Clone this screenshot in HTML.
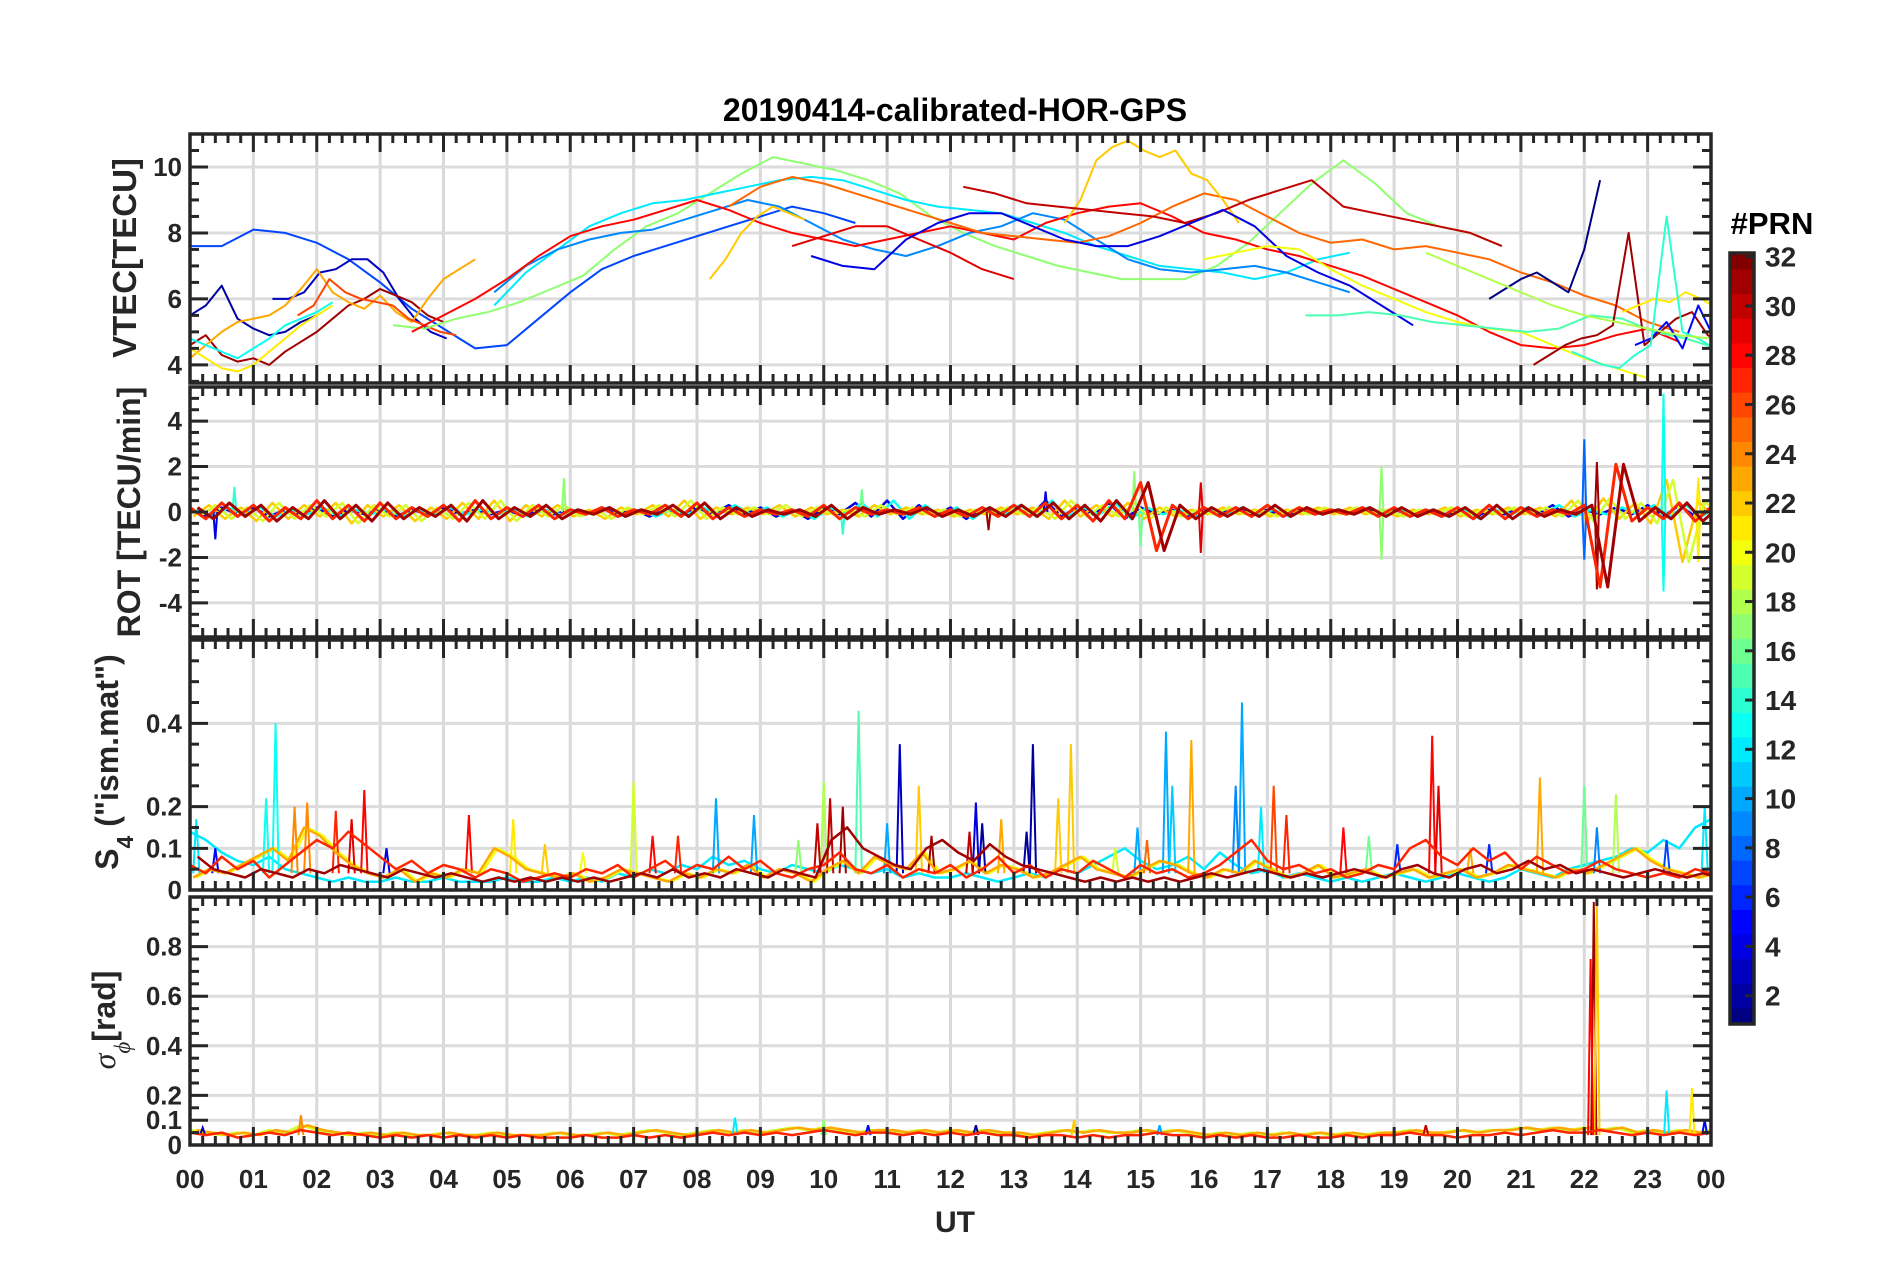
<!DOCTYPE html>
<html><head><meta charset="utf-8"><style>
html,body{margin:0;padding:0;background:#fff;}
svg{display:block;font-family:"Liberation Sans",Arial,sans-serif;}
</style></head><body>
<svg id="fig" width="1902" height="1272" viewBox="0 0 1902 1272" xmlns="http://www.w3.org/2000/svg">
<rect x="0" y="0" width="1902" height="1272" fill="#fff"/>
<text x="955" y="121" text-anchor="middle" font-size="32" font-weight="bold" fill="#000">20190414-calibrated-HOR-GPS</text>
<g id="layer"></g>
<text x="955" y="1232" text-anchor="middle" font-size="30" font-weight="bold" fill="#262626">UT</text>
<text transform="translate(136,258) rotate(-90)" text-anchor="middle" font-size="33" font-weight="bold" fill="#262626">VTEC[TECU]</text>
<text transform="translate(140,512) rotate(-90)" text-anchor="middle" font-size="32" font-weight="bold" fill="#262626">ROT [TECU/min]</text>
<text transform="translate(118,762) rotate(-90)" text-anchor="middle" font-size="32" font-weight="bold" fill="#262626">S<tspan font-size="23" dy="15">4</tspan><tspan dy="-15"> ("ism.mat")</tspan></text>
<text transform="translate(115,1020) rotate(-90)" text-anchor="middle" font-size="32" font-weight="bold" fill="#262626"><tspan font-style="italic" font-weight="normal" font-family="Liberation Serif, serif">σ</tspan><tspan font-size="23" dy="15" font-style="italic" font-weight="normal" font-family="Liberation Serif, serif">ϕ</tspan><tspan dy="-15">[rad]</tspan></text>
<text x="1772" y="234" text-anchor="middle" font-size="31" font-weight="bold" fill="#000">#PRN</text>
</svg>
<script>
// ---------- data ----------
const hourLabels=["00","01","02","03","04","05","06","07","08","09","10","11","12","13","14","15","16","17","18","19","20","21","22","23","00"];
const vtecTicks=[4,6,8,10];
const rotTicks=[-4,-2,0,2,4];
const s4Ticks=[0,0.1,0.2,0.4];
const sigTicks=[0,0.1,0.2,0.4,0.6,0.8];
const cbTicks=[2,4,6,8,10,12,14,16,18,20,22,24,26,28,30,32];
// VTEC tracks: prn, start hour, step hours, values
const vtecPrn=[7,2,3,31,23,21,13,26,17,12,9,28,25,22,22,30,29,4,1,20,15,31,21,5,14,18];
const vtecT0=[0,0,1.3,0,0,0,0,1.7,3.2,4.8,4.8,3.5,8.5,8.2,13.8,12.2,9.5,9.8,20.5,16,17.6,21.2,22.6,22.8,21.8,19.5];
const vtecDt=[0.5,0.25,0.25,0.25,0.25,0.25,0.25,0.25,0.5,0.5,0.5,0.5,0.5,0.25,0.25,0.5,0.5,0.5,0.25,0.5,0.5,0.25,0.25,0.25,0.25,0.5];
const vtecVals=[
[7.6,7.6,8.1,8.0,7.7,7.2,6.5,5.7,5.1,4.5,4.6,5.4,6.2,6.9,7.3,7.6,7.9,8.2,8.5,8.8,8.6,8.3],
[5.5,5.8,6.4,5.4,5.1,4.9,5.0,5.3,5.5],
[6.0,6.0,6.2,6.8,6.9,7.2,7.2,6.8,6.0,5.4,5.0,4.8],
[4.6,4.9,4.3,4.1,4.2,4.0,4.4,4.7,5.0,5.4,5.8,6.0,6.3,6.1,5.9,5.5,5.3],
[4.2,4.6,5.0,5.3,5.4,5.5,5.8,6.3,6.9,6.2,5.9,5.7,6.1,5.6,5.3,6.0,6.6,6.9,7.2],
[4.5,4.2,3.9,3.8,4.0,4.4,4.8,5.2,5.5,5.8],
[4.8,4.6,4.4,4.2,4.5,4.8,5.2,5.4,5.6,5.9],
[5.5,5.8,6.6,6.2,6.0,5.9,5.8,5.4,5.2,5.0,4.9],
[5.2,5.1,5.4,5.6,5.9,6.3,6.7,7.5,8.2,8.6,9.2,9.8,10.3,10.1,9.9,9.6,9.2,8.5,8.0,7.6,7.3,7.0,6.8,6.6,6.6,6.6,7.0,7.7,8.6,9.5,10.2,9.5,8.6,8.2,8.0,7.6],
[5.8,6.8,7.5,8.2,8.6,8.9,9.0,9.2,9.4,9.6,9.7,9.6,9.3,9.0,8.8,8.7,8.6,8.3,8.0,7.6,7.3,7.0,6.9,6.8,6.6,6.8,7.2,7.4],
[6.2,7.0,7.5,7.8,8.0,8.1,8.4,8.7,9.0,8.8,8.3,7.8,7.5,7.3,7.6,8.0,8.2,8.6,8.4,7.8,7.2,6.9,6.8,6.9,7.0,6.8,6.5,6.2],
[5.0,5.5,6.0,6.6,7.3,7.9,8.2,8.4,8.7,9.0,8.7,8.3,8.0,7.8,7.6,7.8,8.0,8.2,8.0,7.8,8.3,8.6,8.8,8.9,8.5,8.0,7.8,7.5,7.3,7.0,6.7,6.3,5.9,5.5,5.0,4.6,4.5,4.6,4.9,5.1,4.7],
[8.8,9.4,9.7,9.5,9.2,8.9,8.6,8.3,8.0,7.9,7.8,7.7,7.9,8.3,8.8,9.2,9.0,8.5,8.0,7.7,7.8,7.5,7.6,7.4,7.2,6.8,6.5,6.1,5.8,5.3,5.0],
[6.6,7.2,8.0,8.5,8.8,8.6,8.4],
[8.3,9.0,10.2,10.6,10.8,10.5,10.3,10.5,9.8,9.6,9.0,8.3],
[9.4,9.2,8.9,8.8,8.7,8.6,8.5,8.3,8.6,9.0,9.3,9.6,8.8,8.6,8.4,8.2,8.0,7.6],
[7.6,7.9,8.2,8.2,7.8,7.4,6.9,6.6],
[7.3,7.0,6.9,7.8,8.3,8.6,8.6,8.2,7.8,7.6,7.6,7.9,8.3,8.7,8.2,7.3,6.8,6.4,5.8,5.2],
[6.0,6.3,6.6,6.8,6.5,6.2,7.5,9.6],
[7.2,7.4,7.6,7.5,6.9,6.4,6.0,5.6,5.3,5.1,5.0,4.6,4.2,3.9,3.6],
[5.5,5.5,5.6,5.5,5.3,5.2,5.1,5.0,5.1,5.5,5.4,5.0,4.8,4.5,4.3,4.5,5.0],
[4.0,4.3,4.6,4.8,4.9,5.2,8.0,4.6,5.0,5.4,5.6,4.9,4.6,4.8,5.0,4.9,4.8,4.6,4.5,4.7,4.9,4.5,4.3],
[5.6,5.8,6.0,5.9,6.2,6.0,5.7,6.4,5.8,6.9,5.5,5.8],
[4.6,4.8,5.3,4.5,5.8,4.8,5.6,5.0,4.8,5.7,5.0],
[4.4,4.2,4.0,3.9,4.3,4.6,8.5,5.0,4.8,4.5,4.3,4.1,4.3,4.5,4.3,4.2,4.1,4.3,4.1],
[7.4,7.0,6.6,6.2,5.8,5.5,5.3,5.1,4.9,4.8]
];
// ROT series (step 0.25 h from 0 h)
const rotRed=[0.2,-0.3,0.4,-0.2,0.3,-0.4,0.2,-0.3,0.5,-0.3,0.3,-0.4,0.4,-0.3,0.2,-0.2,0.3,-0.4,0.5,-0.3,0.2,-0.2,0.3,-0.3,0.1,-0.1,0.2,-0.2,0.1,-0.1,0.3,-0.2,0.4,-0.3,0.2,-0.2,0.1,-0.1,0.1,-0.2,0.3,-0.3,0.2,-0.1,0.1,-0.1,0.2,-0.2,0.1,-0.2,0.2,-0.2,0.3,-0.2,0.4,-0.3,0.3,-0.4,0.5,-0.3,1.3,-1.7,0.3,-0.3,0.2,-0.2,0.2,-0.2,0.3,-0.2,0.2,-0.1,0.1,-0.1,0.2,-0.2,0.2,-0.2,0.1,-0.2,0.2,-0.3,0.3,-0.3,0.2,-0.2,0.1,-0.1,0.3,-3.3,2.1,-0.4,0.2,-0.3,0.4,-0.4,0.2];
const rotOrange=[-0.2,0.3,-0.3,0.2,-0.4,0.4,-0.3,0.3,-0.2,0.4,-0.5,0.3,-0.2,0.3,-0.4,0.2,-0.3,0.4,-0.3,0.5,-0.4,0.3,-0.2,0.3,-0.2,0.1,-0.3,0.2,-0.1,0.3,-0.2,0.5,-0.3,0.2,-0.1,0.2,-0.1,0.3,-0.2,0.2,-0.1,0.1,-0.2,0.3,-0.1,0.2,-0.1,0.1,-0.2,0.1,-0.1,0.2,-0.1,0.2,-0.3,0.5,-0.2,0.3,-0.2,0.4,-0.3,0.2,-0.2,0.1,-0.1,0.2,-0.1,0.1,-0.2,0.1,-0.1,0.2,-0.1,0.2,-0.1,0.1,-0.2,0.1,-0.1,0.2,-0.2,0.1,-0.1,0.2,-0.1,0.2,-0.2,0.5,-0.4,0.6,-0.3,0.4,-0.5,1.4,-2.2,0.5,-0.3];
const rotBlue=[0.1,-0.2,0.2,-0.1,0.2,-0.2,0.1,-0.1,0.2,-0.2,0.1,-0.1,0.1,-0.2,0.1,-0.1,0.2,-0.1,0.1,-0.1,0.1,-0.2,0.1,-0.1,0.1,-0.1,0.2,-0.1,0.1,-0.2,0.1,-0.1,0.2,-0.1,0.3,-0.1,0.2,-0.2,0.1,-0.3,0.2,-0.1,0.4,-0.2,0.5,-0.3,0.3,-0.2,0.2,-0.3,0.2,-0.1,0.3,-0.2,0.5,-0.2,0.2,-0.1,0.4,-0.3,0.2,-0.1,0.1,-0.2,0.1,-0.1,0.2,-0.1,0.1,-0.2,0.1,-0.1,0.1,-0.1,0.2,-0.1,0.1,-0.1,0.1,-0.2,0.1,-0.3,0.1,-0.1,0.2,-0.1,0.3,-0.2,0.1,-0.1,0.2,-0.1,0.3,-0.2,0.3,-0.2,0.2];
const rotSpikeT=[0.4,0.7,5.9,10.3,10.6,13.5,12.6,14.9,15.0,15.95,15.95,18.8,18.8,22.0,22.0,22.2,22.2,23.25,23.25,23.8,23.8];
const rotSpikeV=[-1.2,1.1,1.5,-1.0,1.0,0.9,-0.8,1.8,-1.5,-1.8,1.3,2.0,-2.1,3.2,-2.1,2.2,-3.4,5.2,-3.5,-2.2,1.5];
const rotSpikeP=[4,14,17,14,16,4,31,17,16,29,29,17,17,8,8,31,31,13,13,21,21];
// S4 series (step 0.25 h)
const s4Red=[0.06,0.04,0.08,0.05,0.07,0.03,0.06,0.09,0.12,0.1,0.14,0.11,0.08,0.05,0.07,0.04,0.06,0.05,0.03,0.05,0.04,0.02,0.03,0.04,0.03,0.05,0.04,0.06,0.03,0.05,0.07,0.04,0.06,0.05,0.08,0.05,0.07,0.04,0.03,0.05,0.06,0.09,0.05,0.04,0.06,0.03,0.05,0.04,0.06,0.03,0.05,0.08,0.04,0.06,0.03,0.05,0.04,0.07,0.05,0.03,0.06,0.04,0.05,0.03,0.04,0.06,0.09,0.12,0.07,0.05,0.06,0.04,0.05,0.03,0.04,0.06,0.05,0.1,0.12,0.08,0.06,0.1,0.07,0.09,0.05,0.08,0.06,0.04,0.05,0.07,0.05,0.04,0.03,0.04,0.03,0.05,0.04];
const s4Orange=[0.03,0.05,0.04,0.06,0.08,0.1,0.07,0.15,0.13,0.09,0.06,0.04,0.03,0.05,0.02,0.04,0.03,0.05,0.04,0.1,0.08,0.05,0.04,0.03,0.04,0.02,0.03,0.05,0.04,0.03,0.02,0.04,0.03,0.05,0.04,0.06,0.03,0.05,0.04,0.02,0.05,0.07,0.04,0.08,0.06,0.05,0.09,0.04,0.05,0.07,0.04,0.06,0.05,0.03,0.04,0.06,0.08,0.05,0.04,0.03,0.05,0.07,0.06,0.04,0.03,0.05,0.04,0.07,0.05,0.03,0.04,0.06,0.03,0.04,0.05,0.03,0.04,0.05,0.03,0.04,0.05,0.03,0.04,0.06,0.05,0.04,0.03,0.05,0.04,0.06,0.08,0.1,0.07,0.05,0.04,0.03,0.04];
const s4Cyan=[0.14,0.12,0.09,0.07,0.06,0.08,0.05,0.04,0.03,0.02,0.03,0.02,0.02,0.03,0.02,0.02,0.03,0.02,0.02,0.02,0.03,0.02,0.02,0.03,0.02,0.03,0.02,0.04,0.03,0.05,0.04,0.06,0.05,0.08,0.06,0.07,0.05,0.04,0.06,0.05,0.04,0.06,0.05,0.04,0.05,0.03,0.04,0.03,0.03,0.04,0.03,0.02,0.03,0.04,0.03,0.05,0.04,0.06,0.08,0.1,0.07,0.05,0.06,0.08,0.05,0.09,0.06,0.04,0.05,0.03,0.04,0.03,0.02,0.03,0.02,0.03,0.04,0.03,0.02,0.03,0.04,0.03,0.02,0.03,0.05,0.04,0.03,0.05,0.06,0.07,0.08,0.1,0.09,0.12,0.1,0.15,0.17];
const s4Dark=[0.08,0.05,0.04,0.03,0.05,0.04,0.03,0.05,0.04,0.06,0.05,0.04,0.03,0.05,0.04,0.03,0.04,0.03,0.02,0.03,0.02,0.03,0.02,0.03,0.02,0.03,0.02,0.03,0.04,0.03,0.05,0.03,0.04,0.03,0.05,0.04,0.03,0.05,0.04,0.03,0.12,0.15,0.1,0.08,0.06,0.05,0.1,0.12,0.09,0.07,0.11,0.08,0.06,0.05,0.04,0.03,0.02,0.03,0.02,0.03,0.02,0.03,0.02,0.03,0.04,0.03,0.04,0.05,0.04,0.03,0.04,0.03,0.04,0.05,0.04,0.03,0.05,0.06,0.04,0.03,0.05,0.06,0.04,0.05,0.07,0.05,0.06,0.04,0.05,0.04,0.03,0.04,0.05,0.04,0.03,0.04,0.03];
const s4PeakT=[0.1,1.35,1.2,1.65,1.85,2.3,2.75,2.55,4.4,5.1,5.6,6.2,7.0,7.3,7.7,8.3,8.9,9.6,10.0,10.1,10.55,10.3,11.2,11.0,11.5,12.4,12.5,13.3,13.2,13.9,13.7,14.6,14.95,15.4,15.5,15.8,16.6,16.5,16.9,17.1,17.3,18.2,19.05,19.6,19.7,20.5,21.3,22.0,22.5,22.2,23.3,23.9,0.4,3.1,12.8,11.7,15.1,18.6,20.2,9.9,12.3];
const s4PeakV=[0.17,0.4,0.22,0.2,0.21,0.19,0.24,0.17,0.18,0.17,0.11,0.09,0.26,0.13,0.13,0.22,0.18,0.12,0.26,0.22,0.43,0.2,0.35,0.16,0.25,0.21,0.16,0.35,0.14,0.35,0.22,0.1,0.15,0.38,0.25,0.36,0.45,0.25,0.2,0.25,0.18,0.15,0.11,0.37,0.25,0.11,0.27,0.25,0.23,0.15,0.12,0.2,0.1,0.1,0.17,0.13,0.12,0.13,0.1,0.16,0.14];
const s4PeakP=[12,13,13,24,24,27,28,29,28,21,22,20,19,28,27,10,10,17,18,30,15,31,3,10,22,4,2,2,2,22,22,19,10,10,11,23,10,9,12,26,27,28,6,28,29,6,23,16,18,9,7,12,5,4,23,31,25,16,23,30,30];
// sigma_phi series (step 0.25 h)
const sigRed=[0.05,0.04,0.05,0.03,0.04,0.05,0.04,0.06,0.05,0.04,0.05,0.04,0.03,0.04,0.03,0.04,0.03,0.04,0.03,0.04,0.03,0.04,0.03,0.03,0.03,0.04,0.03,0.03,0.04,0.03,0.04,0.03,0.04,0.05,0.04,0.05,0.04,0.05,0.04,0.05,0.06,0.05,0.04,0.05,0.05,0.04,0.05,0.04,0.05,0.04,0.05,0.04,0.04,0.03,0.04,0.04,0.03,0.04,0.03,0.04,0.04,0.05,0.04,0.04,0.03,0.04,0.03,0.04,0.03,0.03,0.04,0.03,0.03,0.04,0.03,0.04,0.04,0.05,0.04,0.04,0.03,0.04,0.04,0.05,0.04,0.05,0.06,0.05,0.05,0.06,0.05,0.04,0.05,0.04,0.05,0.04,0.05];
const sigOrange=[0.06,0.05,0.04,0.05,0.04,0.06,0.05,0.08,0.06,0.05,0.04,0.05,0.04,0.05,0.04,0.04,0.05,0.04,0.04,0.05,0.04,0.04,0.04,0.05,0.04,0.04,0.05,0.04,0.05,0.06,0.05,0.04,0.05,0.06,0.05,0.06,0.05,0.06,0.07,0.06,0.07,0.06,0.05,0.06,0.06,0.05,0.06,0.05,0.06,0.05,0.06,0.05,0.05,0.04,0.05,0.06,0.05,0.06,0.05,0.05,0.06,0.05,0.06,0.05,0.04,0.05,0.04,0.05,0.04,0.05,0.04,0.05,0.04,0.05,0.04,0.05,0.05,0.06,0.05,0.05,0.06,0.05,0.06,0.06,0.07,0.06,0.07,0.06,0.07,0.06,0.07,0.05,0.06,0.05,0.06,0.05,0.06];
const sigSpikeT=[0.2,1.75,8.6,10.0,10.7,12.4,13.95,15.3,19.5,22.15,22.2,22.1,23.3,23.7,23.9];
const sigSpikeV=[0.07,0.12,0.11,0.1,0.08,0.08,0.1,0.08,0.08,0.98,0.98,0.75,0.22,0.23,0.1];
const sigSpikeP=[3,24,12,17,5,2,22,10,30,31,22,28,12,21,5];

// ---------- layout ----------
const NS='http://www.w3.org/2000/svg';
const layer=document.getElementById('layer');
const X0=190,X1=1711;
const panels=[
 {name:'vtec',top:134,bot:383,min:3.45,max:11.0,ticks:vtecTicks,minor:0.5},
 {name:'rot',top:387,bot:637,min:-5.5,max:5.5,ticks:rotTicks,minor:0.5},
 {name:'s4',top:640,bot:890,min:0,max:0.6,ticks:s4Ticks,minor:0.05},
 {name:'sigma',top:897,bot:1145,min:0,max:1.0,ticks:sigTicks,minor:0.05}
];
function xs(h){return X0+(X1-X0)*h/24;}
function ys(p,v){return p.bot-(p.bot-p.top)*(v-p.min)/(p.max-p.min);}
function jet(prn){
  const t=(prn-1)/31;
  const c=x=>Math.round(255*Math.max(0,Math.min(1,x)));
  return 'rgb('+c(1.5-Math.abs(4*t-3))+','+c(1.5-Math.abs(4*t-2))+','+c(1.5-Math.abs(4*t-1))+')';
}
function mk(tag,attrs,parent){const e=document.createElementNS(NS,tag);for(const k in attrs)e.setAttribute(k,attrs[k]);(parent||layer).appendChild(e);return e;}

function series(p,g,t0,dt,vals,prn,name,w){
  const pts=vals.map((v,i)=>xs(t0+i*dt).toFixed(1)+','+ys(p,v).toFixed(1)).join(' ');
  const el=mk('polyline',{points:pts,fill:'none',stroke:jet(prn),'stroke-width':w||2,'stroke-linejoin':'round'},g);
  
  
}
function spike(p,g,t,v,prn,name,base,half){
  const pts=xs(t-half).toFixed(1)+','+ys(p,base).toFixed(1)+' '+xs(t).toFixed(1)+','+ys(p,v).toFixed(1)+' '+xs(t+half).toFixed(1)+','+ys(p,base).toFixed(1);
  const el=mk('polyline',{points:pts,fill:'none',stroke:jet(prn),'stroke-width':2},g);
  
  
}

panels.forEach((p,pi)=>{
  const g=mk('g',{});
  
  
  const cid='clip'+pi;
  const cp=mk('clipPath',{id:cid},g);mk('rect',{x:X0,y:p.top,width:X1-X0,height:p.bot-p.top},cp);
  for(let h=1;h<24;h++){const l=mk('line',{x1:xs(h),x2:xs(h),y1:p.top,y2:p.bot,stroke:'#d9d9d9','stroke-width':3},g);
    
    }
  p.ticks.forEach(v=>{const l=mk('line',{x1:X0,x2:X1,y1:ys(p,v),y2:ys(p,v),stroke:'#dcdcdc','stroke-width':3},g);
    
    });
  const dg=mk('g',{'clip-path':'url(#'+cid+')'},g);
  
  
  if(p.name==='vtec'){
    vtecVals.forEach((vals,i)=>series(p,dg,vtecT0[i],vtecDt[i],vals,vtecPrn[i],'vtec-prn-'+vtecPrn[i],2));
  } else if(p.name==='rot'){
    series(p,dg,0,0.25,rotBlue,4,'rot-prn-4',2.5);
    series(p,dg,0.1,0.25,rotBlue,13,'rot-prn-13',2.5);
    series(p,dg,0.05,0.25,rotOrange,22,'rot-prn-22',2.5);
    series(p,dg,0.15,0.25,rotOrange,19,'rot-prn-19',2.5);
    rotSpikeT.forEach((t,i)=>spike(p,dg,t,rotSpikeV[i],rotSpikeP[i],'rot-spike',0,0.03));
    series(p,dg,0,0.25,rotRed,27,'rot-prn-27',3);
    series(p,dg,0.12,0.25,rotRed,31,'rot-prn-31',3);
  } else if(p.name==='s4'){
    series(p,dg,0,0.25,s4Cyan,12,'s4-prn-12',2.5);
    series(p,dg,0.1,0.25,s4Orange,20,'s4-prn-20',2.5);
    s4PeakT.forEach((t,i)=>spike(p,dg,t,s4PeakV[i],s4PeakP[i],'s4-peak',0.04,0.05));
    series(p,dg,0.05,0.25,s4Orange,23,'s4-prn-23',2.5);
    series(p,dg,0,0.25,s4Red,27,'s4-prn-27',2.5);
    series(p,dg,0.12,0.25,s4Dark,31,'s4-prn-31',2.5);
  } else {
    series(p,dg,0,0.25,sigOrange,19,'sigma-prn-19',2.5);
    series(p,dg,0.1,0.25,sigOrange,23,'sigma-prn-23',2.5);
    sigSpikeT.forEach((t,i)=>spike(p,dg,t,sigSpikeV[i],sigSpikeP[i],'sigma-spike',0.04,0.04));
    series(p,dg,0,0.25,sigRed,27,'sigma-prn-27',2.5);
  }
  const tg=mk('g',{stroke:'#262626','stroke-width':3},g);
  
  
  for(let m=0;m<=120;m++){const x=xs(m*0.2);const L=(m%5===0)?18:9;
    mk('line',{x1:x,x2:x,y1:p.top,y2:p.top+L},tg);mk('line',{x1:x,x2:x,y1:p.bot,y2:p.bot-L},tg);}
  const nMin=Math.round((p.max-p.min)/p.minor)+2;
  const start=Math.ceil(p.min/p.minor)*p.minor;
  for(let k=0;k<nMin;k++){const v=start+k*p.minor;if(v>p.max+1e-9)break;const y=ys(p,v);
    const maj=p.ticks.some(t=>Math.abs(t-v)<1e-6);const L=maj?18:9;
    mk('line',{x1:X0,x2:X0+L,y1:y,y2:y},tg);mk('line',{x1:X1,x2:X1-L,y1:y,y2:y},tg);}
  p.ticks.forEach(v=>{const t=mk('text',{x:X0-8,y:ys(p,v)+9,'text-anchor':'end','font-size':26,'font-weight':'bold',fill:'#262626'},g);
    t.textContent=String(v);
    
    });
  const fr=mk('rect',{x:X0,y:p.top,width:X1-X0,height:p.bot-p.top,fill:'none',stroke:'#262626','stroke-width':3.5},g);
  
  
});
hourLabels.forEach((s,i)=>{const t=mk('text',{x:xs(i),y:1188,'text-anchor':'middle','font-size':26,'font-weight':'bold',fill:'#262626'});
  t.textContent=s;
  
  });
const CB={x:1730,w:24,top:253,bot:1024,min:0.85,max:32.15};
function cby(v){return CB.bot-(CB.bot-CB.top)*(v-CB.min)/(CB.max-CB.min);}
const cbg=mk('g',{});


for(let k=1;k<=32;k++){
  const y1=cby(k+0.5),y2=cby(k-0.5);
  mk('rect',{x:CB.x,y:Math.max(CB.top,y1),width:CB.w,height:Math.min(CB.bot,y2)-Math.max(CB.top,y1)+0.5,fill:jet(k)},cbg);
}
mk('rect',{x:CB.x,y:CB.top,width:CB.w,height:CB.bot-CB.top,fill:'none',stroke:'#262626','stroke-width':3.5},cbg);
cbTicks.forEach(v=>{const y=cby(v);
  mk('line',{x1:CB.x+CB.w-9,x2:CB.x+CB.w,y1:y,y2:y,stroke:'#262626','stroke-width':3},cbg);
  const t=mk('text',{x:1765,y:y+10,'font-size':28,'font-weight':'bold',fill:'#262626'},cbg);
  t.textContent=String(v);
  
  });
</script>
</body></html>
